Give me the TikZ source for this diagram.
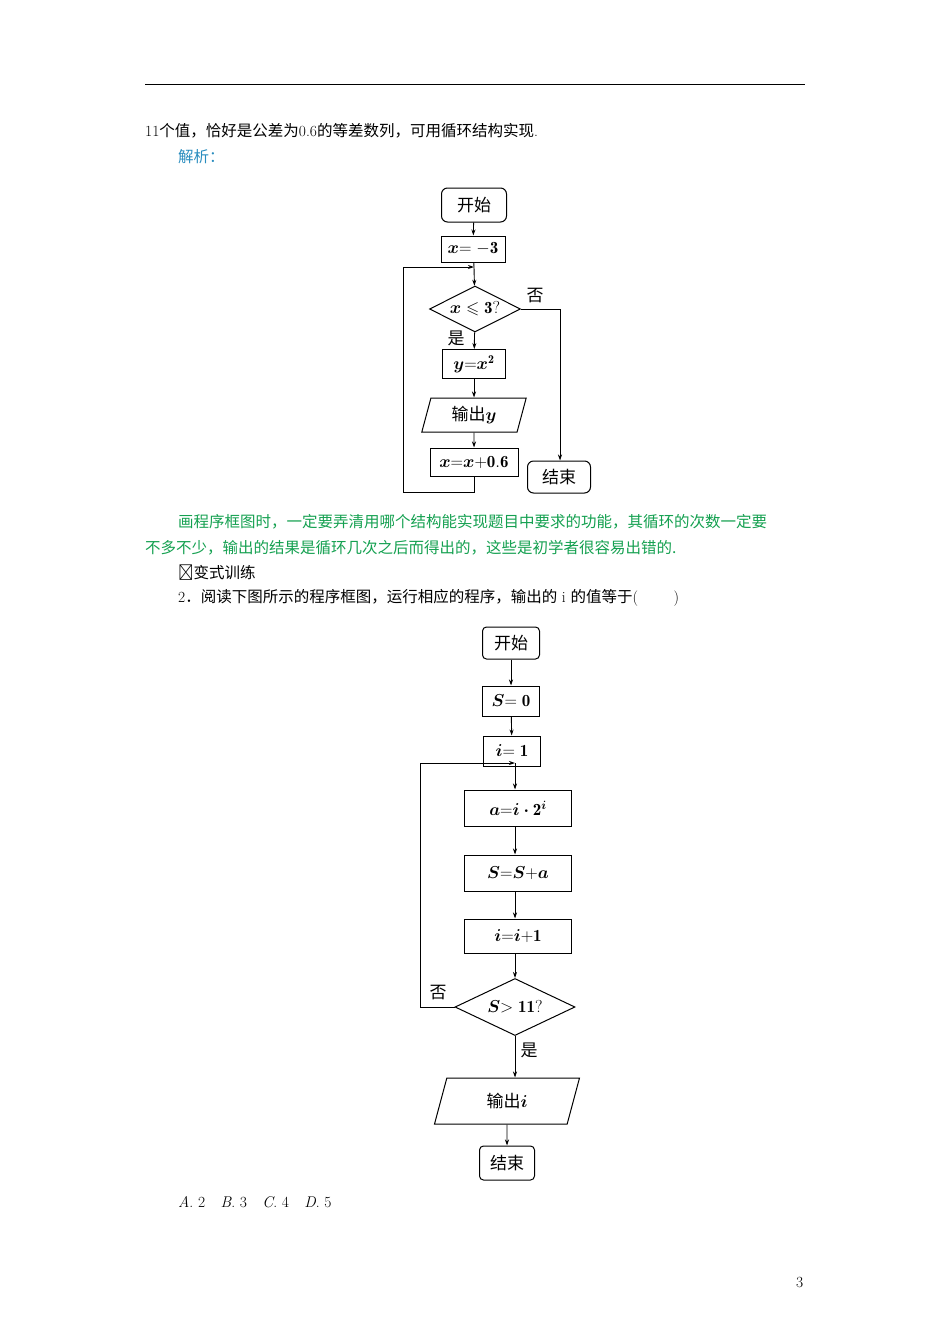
\documentclass[tikz,border=0pt]{standalone}
\usepackage{amsmath,amssymb}
\usepackage{fontspec}
\usetikzlibrary{shapes.geometric,arrows.meta}
\newfontfamily\cjk{Noto Sans CJK SC}
\definecolor{grn}{RGB}{20,160,80}
\definecolor{blu}{RGB}{40,140,190}
\begin{document}
\begin{tikzpicture}[x=1pt,y=-1pt,
  txt/.style={anchor=west,inner sep=0pt,font=\fontsize{15.5}{16}\selectfont},
  fc/.style={draw,line width=1pt,inner sep=0pt,font=\fontsize{17}{18}\selectfont},
  rbox/.style={fc,rounded corners=6pt},
  pbox/.style={fc,trapezium,trapezium left angle=75,trapezium right angle=105},
  dbox/.style={fc,diamond,aspect=2},
  ar/.style={line width=0.9pt,-{Stealth[length=6pt,width=4pt]}},
  ln/.style={line width=0.9pt}]
\useasboundingbox (0,0) rectangle (950,1344);
\draw[line width=0.6pt] (145,84) -- (805,84);
\node[txt] (t1) at (145,131) {11{\cjk 个值，恰好是公差为}0.6{\cjk 的等差数列，可用循环结构实现}.};
\node[txt,text=blu] (t2) at (178,157) {\cjk 解析：};
\node[txt,text=grn] (t3) at (178,522) {\cjk 画程序框图时，一定要弄清用哪个结构能实现题目中要求的功能，其循环的次数一定要};
\node[txt,text=grn] (t4) at (145,548) {\cjk 不多不少，输出的结果是循环几次之后而得出的，这些是初学者很容易出错的.};
\node[txt] (t5) at (178,573) {\cjk ►变式训练};
\node[txt] (t6) at (178,598) {2{\cjk ．阅读下图所示的程序框图，运行相应的程序，输出的} i {\cjk 的值等于}(\qquad\ )};
\node[txt] (t7) at (178,1202) {\textit{A}. 2\quad \textit{B}. 3\quad \textit{C}. 4\quad \textit{D}. 5};
\node[txt] (pg) at (796,1282) {3};
% chart 1
\node[rbox,minimum width=65pt,minimum height=34pt] (a1) at (474,205) {\cjk 开始};
\node[fc,minimum width=64pt,minimum height=26pt] (a2) at (473,249) {$\boldsymbol{x}\mathbf{=-3}$};
\node[dbox,minimum width=91pt,minimum height=46pt] (a3) at (475,309) {$\boldsymbol{x}\leqslant\mathbf{3?}$};
\node[fc,minimum width=63pt,minimum height=29pt] (a4) at (474,364) {$\boldsymbol{y}\mathbf{=}\boldsymbol{x}^{\mathbf 2}$};
\node[pbox,minimum width=72pt,minimum height=34pt] (a5) at (474,415) {{\cjk 输出}$\boldsymbol{y}$};
\node[fc,minimum width=88pt,minimum height=28pt] (a6) at (474,462) {$\boldsymbol{x}\mathbf{=}\boldsymbol{x}\mathbf{+0.6}$};
\node[rbox,minimum width=63pt,minimum height=32pt] (a7) at (559,477) {\cjk 结束};
\coordinate (j1) at (474,267);
\coordinate (c1) at (474,492);
\coordinate (c2) at (403,492);
\coordinate (c3) at (403,267);
\coordinate (c4) at (560,309);
\draw[ar] (a1) -- (a2);
\draw[ln] (a2) -- (j1);
\draw[ar] (j1) -- (a3);
\draw[ar] (a3) -- (a4);
\draw[ar] (a4) -- (a5);
\draw[ar] (a5) -- (a6);
\draw[ar] (a6.south) -- (c1) -- (c2) -- (c3) -- (j1);
\draw[ar] (a3.east) -- (c4) -- (c4 |- a7.north);
\node[font=\fontsize{17}{18}\selectfont\cjk] (n1) at (535,296) {否};
\node[font=\fontsize{17}{18}\selectfont\cjk] (y1) at (456,338) {是};
% chart 2
\node[rbox,minimum width=57pt,minimum height=32pt,rounded corners=4pt] (b1) at (511,643) {\cjk 开始};
\node[fc,minimum width=57pt,minimum height=30pt] (b2) at (511,701) {$\boldsymbol{S}\mathbf{=0}$};
\node[fc,minimum width=57pt,minimum height=30pt] (b3) at (512,751) {$\boldsymbol{i}\mathbf{=1}$};
\node[fc,minimum width=107pt,minimum height=36pt] (b4) at (518,808) {$\boldsymbol{a}\mathbf{=}\boldsymbol{i}\boldsymbol{\cdot}\mathbf{2}^{\boldsymbol{i}}$};
\node[fc,minimum width=107pt,minimum height=36pt] (b5) at (518,873) {$\boldsymbol{S}\mathbf{=}\boldsymbol{S}\mathbf{+}\boldsymbol{a}$};
\node[fc,minimum width=107pt,minimum height=34pt] (b6) at (518,936) {$\boldsymbol{i}\mathbf{=}\boldsymbol{i}\mathbf{+1}$};
\node[dbox,minimum width=120pt,minimum height=57pt] (b7) at (515,1007) {$\boldsymbol{S}\mathbf{>11?}$};
\node[pbox,minimum width=100pt,minimum height=46pt] (b8) at (507,1101) {{\cjk 输出}$\boldsymbol{i}$};
\node[rbox,minimum width=55pt,minimum height=34pt,rounded corners=4pt] (b9) at (507,1163) {\cjk 结束};
\coordinate (j2) at (515,763);
\coordinate (d1) at (420,1007);
\coordinate (d2) at (420,763);
\draw[ar] (b1) -- (b2);
\draw[ar] (b2) -- (b3);
\draw[ln] (b3.south -| j2) -- (j2);
\draw[ar] (j2) -- (j2 |- b4.north);
\draw[ar] (b4.south -| j2) -- (j2 |- b5.north);
\draw[ar] (b5.south -| j2) -- (j2 |- b6.north);
\draw[ar] (b6.south -| j2) -- (b7.north);
\draw[ar] (b7.south) -- (b7.south |- b8.north);
\draw[ar] (b8) -- (b9);
\draw[ar] (b7.west) -- (d1) -- (d2) -- (j2);
\node[font=\fontsize{17}{18}\selectfont\cjk] (n2) at (438,993) {否};
\node[font=\fontsize{17}{18}\selectfont\cjk] (y2) at (529,1050) {是};
\end{tikzpicture}
\end{document}
